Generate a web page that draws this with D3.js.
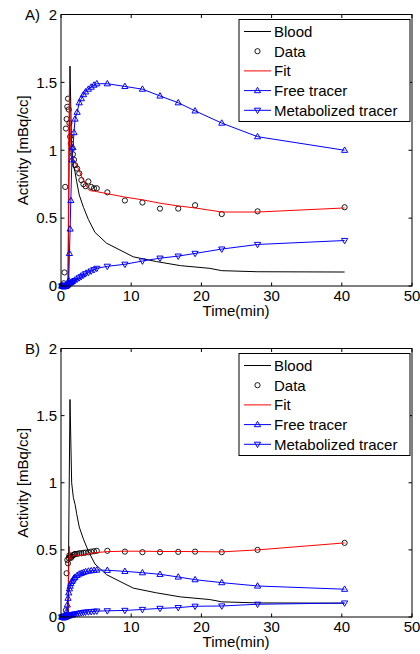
<!DOCTYPE html>
<html><head><meta charset="utf-8">
<script src="https://cdn.jsdelivr.net/npm/d3@7"></script>
<style>body{margin:0;background:#fff}svg{display:block}text{font-family:"Liberation Sans",Arial,sans-serif;fill:#000}</style>
</head><body>
<svg id="chart" width="420" height="654"></svg>
<script>
// ---- data ----
const frameTimes = [0.1,0.2,0.3,0.4,0.5,0.6,0.7,0.8,0.9,1.0,1.1,1.2,1.3,1.4,1.55,1.7,1.85,2.0,2.3,2.6,2.9,3.2,3.5,3.9,4.3,4.7,5.1,6.6,9.1,11.6,14.1,16.7,19.1,22.9,28.0,40.4];
const bloodTimes = [0,1.0,1.28,1.52,1.76,2.0,2.23,2.6,3.2,3.9,4.84,6.5,8.4,10.3,13.6,17.0,21.2,22.9,28.0,40.4];
const bloodValues = [0,0,1.62,1.0,0.89,0.84,0.77,0.67,0.58,0.49,0.395,0.315,0.265,0.215,0.18,0.15,0.13,0.113,0.105,0.103];

const dataA = [0,0,0,0.02,0.10,0.73,1.16,1.23,1.32,1.38,1.30,1.20,1.10,1.05,1.01,0.97,0.93,0.89,0.865,0.83,0.78,0.75,0.735,0.77,0.73,0.72,0.72,0.69,0.63,0.615,0.57,0.57,0.595,0.53,0.55,0.58];
const fitA = [0,0,0,0,0,0,0,0,0,0.02,1.0,1.45,1.2,1.02,0.95,0.93,0.92,0.91,0.88,0.85,0.81,0.78,0.75,0.71,0.70,0.70,0.695,0.68,0.655,0.635,0.61,0.59,0.575,0.545,0.545,0.575];
const freeA = [0,0,0,0,0,0,0.003,0.006,0.01,0.02,0.04,0.24,0.42,0.63,0.93,1.02,1.13,1.23,1.28,1.35,1.38,1.41,1.43,1.45,1.465,1.48,1.49,1.49,1.47,1.45,1.40,1.35,1.29,1.20,1.10,1.00];
const metabA = [0,0,0,0,0,0,0,0.001,0.002,0.003,0.005,0.01,0.015,0.02,0.025,0.03,0.035,0.04,0.05,0.06,0.07,0.08,0.09,0.10,0.11,0.12,0.13,0.145,0.16,0.184,0.205,0.22,0.24,0.272,0.306,0.335];

const dataB = [0,0,0,0,0,0.01,0.05,0.326,0.425,0.40,0.44,0.46,0.45,0.44,0.45,0.46,0.465,0.47,0.47,0.475,0.475,0.478,0.48,0.482,0.487,0.49,0.493,0.493,0.487,0.483,0.483,0.485,0.487,0.483,0.50,0.552];
const fitB = [0,0,0,0,0,0,0,0,0,0.05,0.35,0.525,0.43,0.44,0.45,0.455,0.46,0.46,0.46,0.46,0.46,0.462,0.465,0.47,0.475,0.478,0.48,0.487,0.49,0.49,0.488,0.488,0.487,0.485,0.50,0.552];
const freeB = [0,0,0,0,0,0,0.01,0.04,0.09,0.14,0.18,0.21,0.23,0.25,0.265,0.276,0.29,0.296,0.31,0.32,0.326,0.332,0.338,0.342,0.345,0.348,0.35,0.348,0.34,0.33,0.318,0.298,0.278,0.256,0.231,0.207];
const metabB = [0,0,0,0,0,0,0,0.002,0.004,0.006,0.008,0.01,0.012,0.014,0.016,0.018,0.02,0.022,0.025,0.028,0.031,0.034,0.036,0.038,0.04,0.042,0.044,0.046,0.049,0.056,0.064,0.07,0.08,0.082,0.095,0.104];

const xTicks = [0,10,20,30,40,50];
const yTicks = [0,0.5,1,1.5,2];
const yTickLabels = ["0","0.5","1","1.5","2"];
const legendLabels = ["Blood","Data","Fit","Free tracer","Metabolized tracer"];
const panelLabels = ["A)","B)"];
const xLabel = "Time(min)";
const yLabel = "Activity [mBq/cc]";

// ---- drawing ----
const svg = d3.select("#chart");
const left = 61, right = 412;
const panels = [
  {top:14.5, bottom:286, label:panelLabels[0], data:dataA, fit:fitA, free:freeA, metab:metabA},
  {top:348.5, bottom:617, label:panelLabels[1], data:dataB, fit:fitB, free:freeB, metab:metabB}
];
const BLUE = "#0000ff", RED = "#ff0000";
const upTri = "M0,-3.3L3.1,2.1L-3.1,2.1Z";
const downTri = "M0,3.3L3.1,-2.1L-3.1,-2.1Z";

panels.forEach(p => {
  const x = d3.scaleLinear().domain([0,50]).range([left,right]);
  const y = d3.scaleLinear().domain([0,2]).range([p.bottom,p.top]);
  const g = svg.append("g");
  const line = (xs, ys) => d3.line().x((d,i)=>x(xs[i])).y(d=>y(d))(ys);

  // blood
  g.append("path").attr("d", line(bloodTimes, bloodValues)).attr("fill","none").attr("stroke","#000").attr("stroke-width",1);
  // data circles
  g.selectAll(null).data(p.data).join("circle")
    .attr("cx",(d,i)=>x(frameTimes[i])).attr("cy",d=>y(d)).attr("r",2.6)
    .attr("fill","none").attr("stroke","#000").attr("stroke-width",0.9);
  // fit
  g.append("path").attr("d", line(frameTimes, p.fit)).attr("fill","none").attr("stroke",RED).attr("stroke-width",1);
  // free tracer
  g.append("path").attr("d", line(frameTimes, p.free)).attr("fill","none").attr("stroke",BLUE).attr("stroke-width",1);
  g.selectAll(null).data(p.free).join("path")
    .attr("transform",(d,i)=>`translate(${x(frameTimes[i])},${y(d)})`).attr("d",upTri)
    .attr("fill","none").attr("stroke",BLUE).attr("stroke-width",1);
  // metabolized tracer
  g.append("path").attr("d", line(frameTimes, p.metab)).attr("fill","none").attr("stroke",BLUE).attr("stroke-width",1);
  g.selectAll(null).data(p.metab).join("path")
    .attr("transform",(d,i)=>`translate(${x(frameTimes[i])},${y(d)})`).attr("d",downTri)
    .attr("fill","none").attr("stroke",BLUE).attr("stroke-width",1);

  // axes box
  g.append("rect").attr("x",left).attr("y",p.top).attr("width",right-left).attr("height",p.bottom-p.top)
    .attr("fill","none").attr("stroke","#000").attr("stroke-width",1);
  const tl = 3.5;
  xTicks.forEach(t => {
    const xx = x(t);
    g.append("line").attr("x1",xx).attr("x2",xx).attr("y1",p.bottom).attr("y2",p.bottom-tl).attr("stroke","#000");
    g.append("line").attr("x1",xx).attr("x2",xx).attr("y1",p.top).attr("y2",p.top+tl).attr("stroke","#000");
    g.append("text").attr("x",xx).attr("y",p.bottom+15).attr("text-anchor","middle").attr("font-size",15).text(t);
  });
  yTicks.forEach((t,i) => {
    const yy = y(t);
    g.append("line").attr("x1",left).attr("x2",left+tl).attr("y1",yy).attr("y2",yy).attr("stroke","#000");
    g.append("line").attr("x1",right).attr("x2",right-tl).attr("y1",yy).attr("y2",yy).attr("stroke","#000");
    g.append("text").attr("x",left-4).attr("y",yy+5.3).attr("text-anchor","end").attr("font-size",15).text(yTickLabels[i]);
  });
  g.append("text").attr("x",236).attr("y",p.bottom+30).attr("text-anchor","middle").attr("font-size",15).text(xLabel);
  g.append("text").attr("transform",`translate(28,${(p.top+p.bottom)/2}) rotate(-90)`)
    .attr("text-anchor","middle").attr("font-size",15).text(yLabel);
  g.append("text").attr("x",25).attr("y",p.top+5.5).attr("font-size",15).text(p.label);

  // legend
  const lx = 239, ly = p.top+5, lw = 171, lh = 102;
  const lg = g.append("g");
  lg.append("rect").attr("x",lx).attr("y",ly).attr("width",lw).attr("height",lh).attr("fill","#fff").attr("stroke","#000").attr("stroke-width",1);
  const rowY = i => ly + 12 + i*19.7;
  const x1 = 244, x2 = 271, xm = (x1+x2)/2;
  legendLabels.forEach((lab,i) => {
    const yy = rowY(i);
    if (i !== 1) {
      lg.append("line").attr("x1",x1).attr("x2",x2).attr("y1",yy).attr("y2",yy)
        .attr("stroke", i===0 ? "#000" : i===2 ? RED : BLUE).attr("stroke-width",1);
    }
    if (i === 1) lg.append("circle").attr("cx",xm).attr("cy",yy).attr("r",2.6).attr("fill","none").attr("stroke","#000").attr("stroke-width",0.9);
    if (i === 3) lg.append("path").attr("transform",`translate(${xm},${yy})`).attr("d",upTri).attr("fill","none").attr("stroke",BLUE);
    if (i === 4) lg.append("path").attr("transform",`translate(${xm},${yy})`).attr("d",downTri).attr("fill","none").attr("stroke",BLUE);
    lg.append("text").attr("x",274).attr("y",yy+5.3).attr("font-size",15).text(lab);
  });
});
</script>
</body></html>
